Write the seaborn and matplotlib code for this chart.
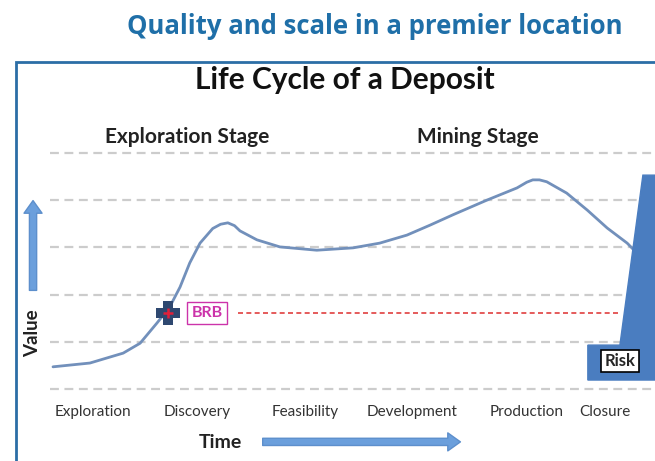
import matplotlib
matplotlib.use("Agg")
import matplotlib.pyplot as plt
import seaborn as sns
import pandas as pd
from matplotlib.patches import Rectangle

# value curve (time 0-100, value 0-50)
time_pts = [0.5, 6.6, 12.1, 14.9, 17.7, 19.8, 21.5, 23.1, 24.8, 26.9, 28.2, 29.4, 30.5, 31.4,
            34.2, 38.0, 44.1, 50.1, 54.5, 59.0, 62.8, 66.6, 72.2, 77.2, 78.8, 79.8, 80.9,
            82.1, 85.4, 88.8, 92.1, 95.4, 97.0]
value_pts = [4.7, 5.5, 7.6, 9.7, 14.0, 17.4, 21.6, 26.7, 30.9, 34.0, 34.9, 35.2, 34.6, 33.5,
             31.6, 30.1, 29.4, 29.9, 30.9, 32.6, 34.7, 36.9, 40.0, 42.6, 43.8, 44.3, 44.3,
             43.9, 41.5, 37.9, 34.1, 30.9, 28.8]

stages = ["Exploration", "Discovery", "Feasibility", "Development", "Production", "Closure"]
stage_pos = [7.1, 24.3, 42.1, 59.9, 78.8, 91.7]

grid_levels = [0, 10, 20, 30, 40, 50]
brb_time = 19.5
brb_value = 16.1
brb_line_end = 94.2

# risk wedge outline
risk_t = [88.9, 88.9, 94.2, 98.0, 100, 100]
risk_v = [1.9, 9.3, 9.3, 45.3, 45.3, 1.9]

sns.set_style("white")
plt.rcParams["font.family"] = ["Lato", "DejaVu Sans"]

fig = plt.figure(figsize=(6.55, 4.61), dpi=100)
ax = fig.add_axes([0, 0, 1, 1])
ax.set_xlim(-8.26, 100)
ax.set_ylim(-15.25, 82.4)
ax.axis("off")

# outer frame
fig.patches.append(Rectangle((16 / 655, -0.1), 1.2, 1.1 - 62 / 461, transform=fig.transFigure,
                             fill=False, ec="#2b6ea6", lw=2))

ax.hlines(grid_levels, 0, 100, colors="#cccccc", linestyles=(0, (4, 2.5)), lw=1.6)

df = pd.DataFrame({"time": time_pts, "value": value_pts})
sns.lineplot(data=df, x="time", y="value", ax=ax, color="#7290bb", lw=2, sort=False)

ax.fill(risk_t, risk_v, color="#4a7dc0", zorder=3)
ax.text(94.2, 5.9, "Risk", ha="center", va="center", fontsize=12, fontweight="bold",
        bbox=dict(fc="white", ec="black", lw=1.2, boxstyle="square,pad=0.2"), zorder=4)

# BRB marker and level
plus = [(-0.38, 1), (0.38, 1), (0.38, 0.38), (1, 0.38), (1, -0.38), (0.38, -0.38),
        (0.38, -1), (-0.38, -1), (-0.38, -0.38), (-1, -0.38), (-1, 0.38), (-0.38, 0.38)]
ax.plot([31.1, brb_line_end], [brb_value, brb_value], color="#e04040", ls=(0, (3, 2)), lw=1.2)
ax.scatter([brb_time], [brb_value], marker=plus, s=300, color="#2e4870", zorder=5, lw=0)
ax.scatter([brb_time], [brb_value], marker="+", s=45, color="#e0203a", zorder=6, lw=1.8)
ax.text(25.95, brb_value, "BRB", ha="center", va="center", fontsize=11.5, fontweight="bold",
        color="#cc33aa", bbox=dict(fc="white", ec="#cc33aa", lw=1, boxstyle="square,pad=0.25"))

for name, pos in zip(stages, stage_pos):
    ax.text(pos, -4.9, name, ha="center", va="center", fontsize=11, color="#333333")

ax.text(22.6, 53.4, "Exploration Stage", ha="center", va="center", fontsize=15,
        fontweight="bold", color="#222222")
ax.text(70.7, 53.4, "Mining Stage", ha="center", va="center", fontsize=15,
        fontweight="bold", color="#222222")

# axis arrows
arrow = dict(arrowstyle="simple,head_length=0.7,head_width=1.0,tail_width=0.4",
             fc="#6b9fdc", ec="#5d8fcc", mutation_scale=13)
ax.annotate("", xy=(-2.8, 40.5), xytext=(-2.8, 20.3), arrowprops=arrow)
ax.annotate("", xy=(68.3, -11.2), xytext=(34.7, -11.2), arrowprops=arrow)
ax.text(-2.8, 11.9, "Value", rotation=90, ha="center", va="center", fontsize=13.5,
        fontweight="bold", color="#222222")
ax.text(28.1, -11.4, "Time", ha="center", va="center", fontsize=14,
        fontweight="bold", color="#222222")

fig.text(345 / 655, 1 - 80 / 461, "Life Cycle of a Deposit", ha="center", va="center",
         fontsize=21.5, fontweight="bold", color="#111111")
fig.text(375 / 655, 1 - 27 / 461, "Quality and scale in a premier location", ha="center",
         va="center", fontsize=18.5, fontweight="bold", color="#1f6fa8",
         family=["Open Sans", "DejaVu Sans"])

fig.savefig("out.png", dpi=100)
